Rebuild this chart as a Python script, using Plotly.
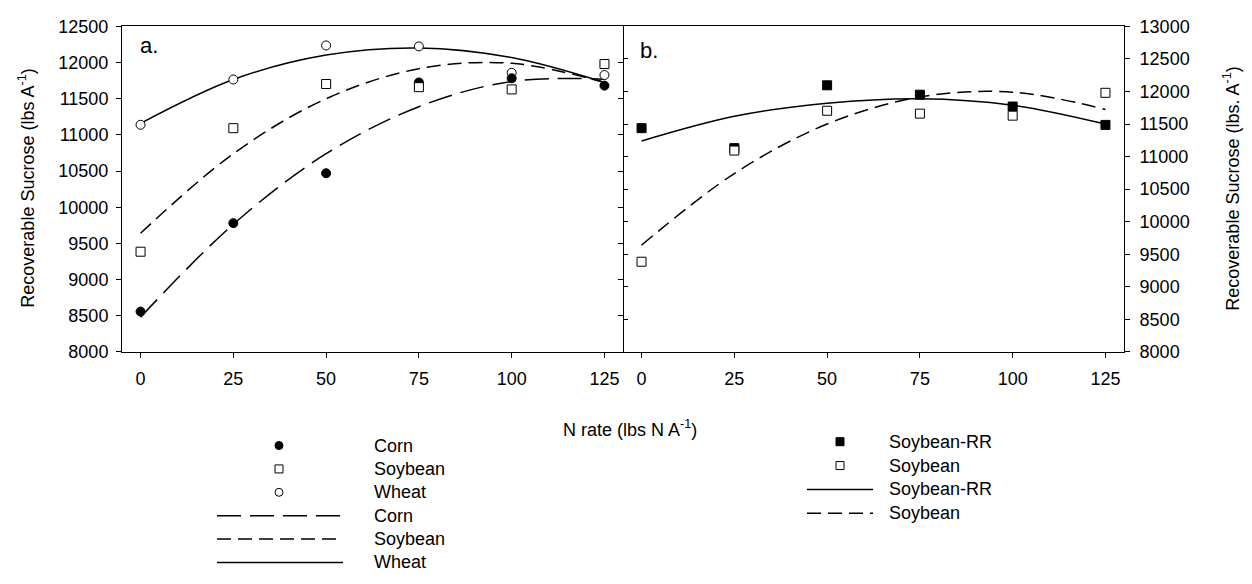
import plotly.graph_objects as go

W, H = 1252, 584

# ---------------- data ----------------
N_RATE = [0, 25, 50, 75, 100, 125]
X_TICKS = [0, 25, 50, 75, 100, 125]

# panel a: observed
corn_obs = [8557, 9780, 10470, 11725, 11783, 11681]
soy_a_obs = [9385, 11093, 11704, 11660, 11629, 11980]
wheat_obs = [11140, 11766, 12237, 12224, 11859, 11828]
# panel a: fitted curves
corn_fit = [8480, 9765, 10740, 11390, 11740, 11770]
soy_a_fit = [9640, 10740, 11500, 11915, 11990, 11725]
wheat_fit = [11160, 11766, 12104, 12202, 12069, 11725]

# panel b: observed
rr_obs = [11437, 11130, 12095, 11951, 11769, 11487]
soy_b_obs = [9385, 11093, 11704, 11660, 11629, 11980]
# panel b: fitted curves
rr_fit = [11240, 11620, 11820, 11890, 11790, 11500]
soy_b_fit = [9640, 10740, 11500, 11915, 11990, 11725]

Y_A_RANGE = [8000, 12500]
Y_B_RANGE = [8000, 13000]

# ---------------- style ----------------
FONT = "Arial, Liberation Sans, sans-serif"
CORN_DASH = "24px,9px"
SOY_DASH = "14px,7px"
LW = 1.5

fig = go.Figure()

def fit_line(x, y, dash, xa, ya):
    return go.Scatter(x=x, y=y, mode="lines", line=dict(color="black", width=LW, dash=dash,
                      shape="spline", smoothing=1.0), xaxis=xa, yaxis=ya, showlegend=False,
                      hoverinfo="skip")

def pts(x, y, symbol, fill, size, xa, ya):
    return go.Scatter(x=x, y=y, mode="markers",
                      marker=dict(symbol=symbol, size=size, color=fill,
                                  line=dict(color="black", width=1)),
                      xaxis=xa, yaxis=ya, showlegend=False)

# panel a
fig.add_trace(fit_line(N_RATE, wheat_fit, "solid", "x", "y"))
fig.add_trace(fit_line(N_RATE, soy_a_fit, SOY_DASH, "x", "y"))
fig.add_trace(fit_line(N_RATE, corn_fit, CORN_DASH, "x", "y"))
fig.add_trace(pts(N_RATE, wheat_obs, "circle", "white", 9, "x", "y"))
fig.add_trace(pts(N_RATE, corn_obs, "circle", "black", 9, "x", "y"))
fig.add_trace(pts(N_RATE, soy_a_obs, "square", "white", 9, "x", "y"))

# panel b
fig.add_trace(fit_line(N_RATE, rr_fit, "solid", "x2", "y2"))
fig.add_trace(fit_line(N_RATE, soy_b_fit, SOY_DASH, "x2", "y2"))
fig.add_trace(pts(N_RATE, rr_obs, "square", "black", 9, "x2", "y2"))
fig.add_trace(pts(N_RATE, soy_b_obs, "square", "white", 9, "x2", "y2"))

# empty traces so the inner-tick overlay axes are surely drawn
fig.add_trace(go.Scatter(x=[None], y=[None], xaxis="x", yaxis="y5", showlegend=False, hoverinfo="skip"))
fig.add_trace(go.Scatter(x=[None], y=[None], xaxis="x2", yaxis="y6", showlegend=False, hoverinfo="skip"))

# ---------------- custom legends (drawn on a pixel-space helper axis) ----------------
LEG_A = [("Corn", "marker", "circle", "black"),
         ("Soybean", "marker", "square", "white"),
         ("Wheat", "marker", "circle", "white"),
         ("Corn", "line", CORN_DASH, None),
         ("Soybean", "line", SOY_DASH, None),
         ("Wheat", "line", "solid", None)]
LEG_B = [("Soybean-RR", "marker", "square", "black"),
         ("Soybean", "marker", "square", "white"),
         ("Soybean-RR", "line", "solid", None),
         ("Soybean", "line", SOY_DASH, None)]

annotations = []

def build_legend(entries, top, step, mx, lx0, lx1, tx):
    for i, (label, kind, sty, fill) in enumerate(entries):
        yy = top + i * step
        if kind == "marker":
            fig.add_trace(go.Scatter(x=[mx], y=[yy], mode="markers",
                                     marker=dict(symbol=sty, size=8, color=fill,
                                                 line=dict(color="black", width=1)),
                                     xaxis="x3", yaxis="y3", showlegend=False, hoverinfo="skip"))
        else:
            fig.add_trace(go.Scatter(x=[lx0, lx1], y=[yy, yy], mode="lines",
                                     line=dict(color="black", width=LW, dash=sty),
                                     xaxis="x3", yaxis="y3", showlegend=False, hoverinfo="skip"))
        annotations.append(dict(x=tx, y=yy, xref="x3", yref="y3", text=label, showarrow=False,
                                xanchor="left", yanchor="middle",
                                font=dict(family=FONT, size=18, color="black")))

build_legend(LEG_A, 451, 24.2, 279, 217, 343, 372)
build_legend(LEG_B, 447, 24.7, 840, 807, 873, 887)

# ---------------- layout ----------------
XL = [122 / W, 623 / W]
XR = [623 / W, 1124 / W]
YD = [(H - 354) / H, (H - 17) / H]

axis_common = dict(showgrid=False, zeroline=False, showline=True, linecolor="black",
                   linewidth=1, tickcolor="black", tickwidth=1, ticklen=5,
                   tickfont=dict(family=FONT, size=18, color="black"))

fig.update_layout(
    width=W, height=H, margin=dict(l=0, r=0, t=0, b=0),
    plot_bgcolor="rgba(0,0,0,0)", paper_bgcolor="white", showlegend=False,
    xaxis=dict(domain=XL, range=[-5, 130], tickvals=X_TICKS, ticks="outside", anchor="y",
               mirror=True, ticklabelstandoff=6, **axis_common),
    yaxis=dict(domain=YD, range=Y_A_RANGE, dtick=500, tick0=8000, ticks="outside", anchor="x",
               mirror=True, ticklabelstandoff=4, tickformat="d", **axis_common),
    yaxis5=dict(overlaying="y", side="right", anchor="x", range=Y_A_RANGE, dtick=500, tick0=8000,
                ticks="inside", showticklabels=False, showline=False, showgrid=False,
                zeroline=False, tickcolor="black", ticklen=5, tickwidth=1),
    xaxis2=dict(domain=XR, range=[-5, 130], tickvals=X_TICKS, ticks="outside", anchor="y2",
                mirror=True, ticklabelstandoff=6, **axis_common),
    yaxis2=dict(domain=YD, range=Y_B_RANGE, dtick=500, tick0=8000, ticks="outside", anchor="x2",
                side="right", mirror=False, ticklabelstandoff=6, tickformat="d", **axis_common),
    yaxis6=dict(overlaying="y2", side="left", anchor="x2", range=Y_B_RANGE, dtick=500, tick0=8000,
                ticks="inside", showticklabels=False, showline=False, showgrid=False,
                zeroline=False, tickcolor="black", ticklen=5, tickwidth=1),
    xaxis3=dict(domain=[0, 1], range=[0, W], visible=False, anchor="y3"),
    yaxis3=dict(domain=[0, 1], range=[H, 0], visible=False, anchor="x3"),
)

annotations += [
    dict(x=138 / W, y=1 - 37 / H, xref="paper", yref="paper", text="a.", showarrow=False,
         xanchor="left", yanchor="middle", font=dict(family=FONT, size=22, color="black")),
    dict(x=638 / W, y=1 - 42 / H, xref="paper", yref="paper", text="b.", showarrow=False,
         xanchor="left", yanchor="middle", font=dict(family=FONT, size=22, color="black")),
    dict(x=27 / W, y=1 - 185 / H, xref="paper", yref="paper",
         text="Recoverable Sucrose (lbs A<sup>-1</sup>)", textangle=-90, showarrow=False,
         xanchor="center", yanchor="middle", font=dict(family=FONT, size=18, color="black")),
    dict(x=1232 / W, y=1 - 185 / H, xref="paper", yref="paper",
         text="Recoverable Sucrose (lbs. A<sup>-1</sup>)", textangle=-90, showarrow=False,
         xanchor="center", yanchor="middle", font=dict(family=FONT, size=18, color="black")),
    dict(x=630 / W, y=1 - 433 / H, xref="paper", yref="paper",
         text="N rate (lbs N A<sup>-1</sup>)", showarrow=False,
         xanchor="center", yanchor="middle", font=dict(family=FONT, size=18, color="black")),
]
fig.update_layout(annotations=annotations)

fig.write_html("out.html")
